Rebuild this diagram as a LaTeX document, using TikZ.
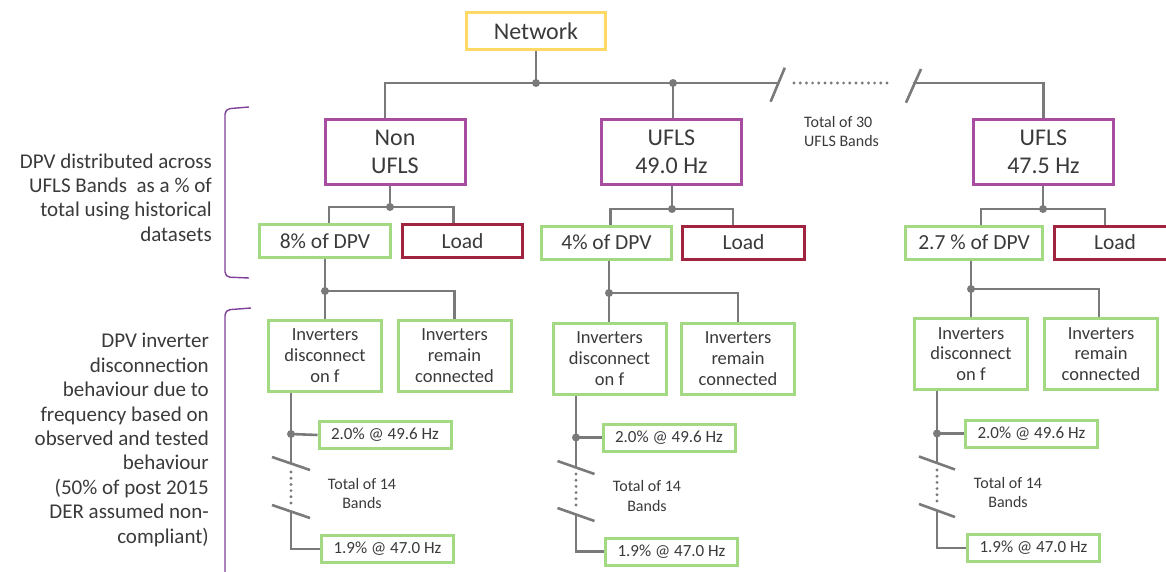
\documentclass[tikz,border=0pt]{standalone}
\usepackage{fontspec}
\setmainfont{Carlito}
\usetikzlibrary{calc}
\definecolor{netc}{HTML}{FFD966}
\definecolor{uflsc}{HTML}{A64D9F}
\definecolor{greenc}{HTML}{A3D982}
\definecolor{loadc}{HTML}{A0233F}
\definecolor{linec}{HTML}{7A7A7A}
\definecolor{txtc}{HTML}{3A3A3A}
\definecolor{bracec}{HTML}{7F3F98}
\begin{document}
\begin{tikzpicture}[x=1pt,y=-1pt,
  box/.style={draw, line width=3pt, inner sep=0pt, text=txtc, align=center},
  netbox/.style={box, draw=netc, minimum width=139pt, minimum height=37pt, font=\fontsize{24}{28}\selectfont},
  uflsbox/.style={box, draw=uflsc, minimum width=140pt, minimum height=65pt, font=\fontsize{24}{28}\selectfont},
  dpvbox/.style={box, draw=greenc, minimum height=33pt, font=\fontsize{21.5}{25}\selectfont},
  loadbox/.style={box, draw=loadc, minimum height=33pt, font=\fontsize{21.5}{25}\selectfont},
  invbox/.style={box, draw=greenc, minimum width=113pt, minimum height=71pt, font=\fontsize{18.5}{20.8}\selectfont},
  bandbox/.style={box, draw=greenc, minimum width=132pt, minimum height=27pt, font=\fontsize{17}{20}\selectfont},
  conn/.style={draw=linec, line width=2.6pt},
  dotline/.style={draw=linec, line width=3.2pt, dash pattern=on 0pt off 6.2pt, line cap=round},
  jdot/.style={fill=linec},
  note/.style={text=txtc, inner sep=0pt, font=\fontsize{16}{19.5}\selectfont},
  lefttext/.style={text=txtc, inner sep=0pt, align=right, font=\fontsize{21}{24.4}\selectfont},
  brace/.style={draw=bracec, line width=1.4pt, rounded corners=5pt}
]
\useasboundingbox (0,0) rectangle (1166,572);
\clip (0,0) rectangle (1166,572);

% ---- nodes ----
\node[netbox] (net) at (536,31) {Network};
\node[uflsbox] (nonufls) at (395,152) {Non\\UFLS};
\node[uflsbox] (u49) at (671.5,152) {UFLS\\49.0 Hz};
\node[uflsbox] (u475) at (1043.5,152) {UFLS\\47.5 Hz};

\node[dpvbox, minimum width=131pt] (dpv1) at (325,241) {8\% of DPV};
\node[loadbox, minimum width=120pt] (load1) at (462.5,241) {Load};
\node[dpvbox, minimum width=130pt] (dpv2) at (606.5,242.5) {4\% of DPV};
\node[loadbox, minimum width=122pt] (load2) at (743.5,242.5) {Load};
\node[dpvbox, minimum width=137pt] (dpv3) at (974,242.5) {2.7 \% of DPV};
\node[loadbox, minimum width=122pt] (load3) at (1115,242.5) {Load};

\node[invbox] (inv1d) at (325,355.5) {Inverters\\disconnect\\on f};
\node[invbox] (inv1r) at (454.5,355.5) {Inverters\\remain\\connected};
\node[invbox] (inv2d) at (609.5,358.5) {Inverters\\disconnect\\on f};
\node[invbox] (inv2r) at (738,358.5) {Inverters\\remain\\connected};
\node[invbox] (inv3d) at (971,354) {Inverters\\disconnect\\on f};
\node[invbox] (inv3r) at (1101,354) {Inverters\\remain\\connected};

\node[bandbox] (b1a) at (385,435) {2.0\% @ 49.6 Hz};
\node[bandbox] (b1b) at (387.5,549) {1.9\% @ 47.0 Hz};
\node[bandbox] (b2a) at (669,437.5) {2.0\% @ 49.6 Hz};
\node[bandbox] (b2b) at (671.5,551.5) {1.9\% @ 47.0 Hz};
\node[bandbox] (b3a) at (1031.5,433.5) {2.0\% @ 49.6 Hz};
\node[bandbox] (b3b) at (1033.5,548) {1.9\% @ 47.0 Hz};

\node[note, anchor=west, align=left] (tot30) at (804,131.5) {Total of 30\\UFLS Bands};
\node[note, align=center] (tot14a) at (362,493.5) {Total of 14\\Bands};
\node[note, align=center] (tot14b) at (647,496) {Total of 14\\Bands};
\node[note, align=center] (tot14c) at (1008,492.5) {Total of 14\\Bands};

\node[lefttext, anchor=east] (lt1) at (212,197.5) {DPV distributed across\\UFLS Bands\ \ as a \% of\\total using historical\\datasets};
\node[lefttext, anchor=east] (lt2) at (209,440) {DPV inverter\\disconnection\\behaviour due to\\frequency based on\\observed and tested\\behaviour\\(50\% of post 2015\\DER assumed non-\\compliant)};

% ---- top bus ----
\coordinate (jn) at (536,83);
\coordinate (j49) at (673,83);
\coordinate (s1) at (778,83);
\coordinate (s2) at (913,83);
\draw[conn] (net.south) -- (jn);
\draw[conn] ([xshift=-10pt]nonufls.north) |- (jn) -- (s1);
\draw[conn] (j49) -- (j49 |- u49.north);
\draw[conn] (s2) -| (u475.north);
\draw[conn] (770.6,101.7) -- (784.8,67.7);
\draw[conn] (906,102.7) -- (921,69);
\draw[dotline] (794,83) -- (893,83);
\fill[jdot] (jn) circle (4);
\fill[jdot] (j49) circle (4);

% ---- second level ----
\coordinate (ja) at (390,207);
\coordinate (jb) at (672,209);
\coordinate (jc) at (1043,209);
\draw[conn] (nonufls.south -| ja) -- (ja);
\draw[conn] ([xshift=4pt]dpv1.north) |- (ja) -| ([xshift=-9pt]load1.north);
\draw[conn] (u49.south -| jb) -- (jb);
\draw[conn] ([xshift=4pt]dpv2.north) |- (jb) -| ([xshift=-10.5pt]load2.north);
\draw[conn] (u475.south -| jc) -- (jc);
\draw[conn] ([xshift=7pt]dpv3.north) |- (jc) -| ([xshift=-10pt]load3.north);
\fill[jdot] (ja) circle (4);
\fill[jdot] (jb) circle (4);
\fill[jdot] (jc) circle (4);

% ---- third level ----
\coordinate (jd) at (325,291);
\coordinate (je) at (609,293);
\coordinate (jf) at (971,289);
\draw[conn] (dpv1.south -| jd) -- (jd) -- (inv1d.north);
\draw[conn] (jd) -| (inv1r.north);
\draw[conn] (dpv2.south -| je) -- (je) -- (je |- inv2d.north);
\draw[conn] (je) -| (inv2r.north);
\draw[conn] (dpv3.south -| jf) -- (jf) -- (jf |- inv3d.north);
\draw[conn] (jf) -| ([xshift=-2pt]inv3r.north);
\fill[jdot] (jd) circle (4);
\fill[jdot] (je) circle (4);
\fill[jdot] (jf) circle (4);

% ---- band trunks ----
\coordinate (t1) at (291,434);   \coordinate (u1) at (291,463.5); \coordinate (l1) at (291,511.5);
\coordinate (t2) at (576,437.5); \coordinate (u2) at (576,467.5); \coordinate (l2) at (576,514.5);
\coordinate (t3) at (937,433.5); \coordinate (u3) at (937,463);   \coordinate (l3) at (937,510.5);

\draw[conn] (inv1d.south -| t1) -- (u1);
\draw[conn] (t1) -- (b1a.west);
\draw[conn] (l1) |- (b1b.west);
\draw[conn] (u1) ++(-19,-6.5) -- ++(38,13);
\draw[conn] (l1) ++(-19,-6.5) -- ++(38,13);
\draw[dotline] (291,472) -- (291,503);
\fill[jdot] (t1) circle (4);

\draw[conn] (inv2d.south -| t2) -- (u2);
\draw[conn] (t2) -- (b2a.west);
\draw[conn] (l2) |- (b2b.west);
\draw[conn] (u2) ++(-18.5,-6.5) -- ++(37,13);
\draw[conn] (l2) ++(-18.5,-6.5) -- ++(37,13);
\draw[dotline] (576,474) -- (576,505);
\fill[jdot] (t2) circle (4);

\draw[conn] (inv3d.south -| t3) -- (u3);
\draw[conn] (t3) -- (b3a.west);
\draw[conn] (l3) |- (b3b.west);
\draw[conn] (u3) ++(-18,-6.5) -- ++(36,13);
\draw[conn] (l3) ++(-18,-6.5) -- ++(36,13);
\draw[dotline] (937,470) -- (937,501);
\fill[jdot] (t3) circle (4);

% ---- brackets ----
\draw[brace] (249,107) -- (225,109) -- (225,277) -- (249,278);
\draw[brace] (251,308) -- (225,310) -- (225,590);
\end{tikzpicture}
\end{document}
